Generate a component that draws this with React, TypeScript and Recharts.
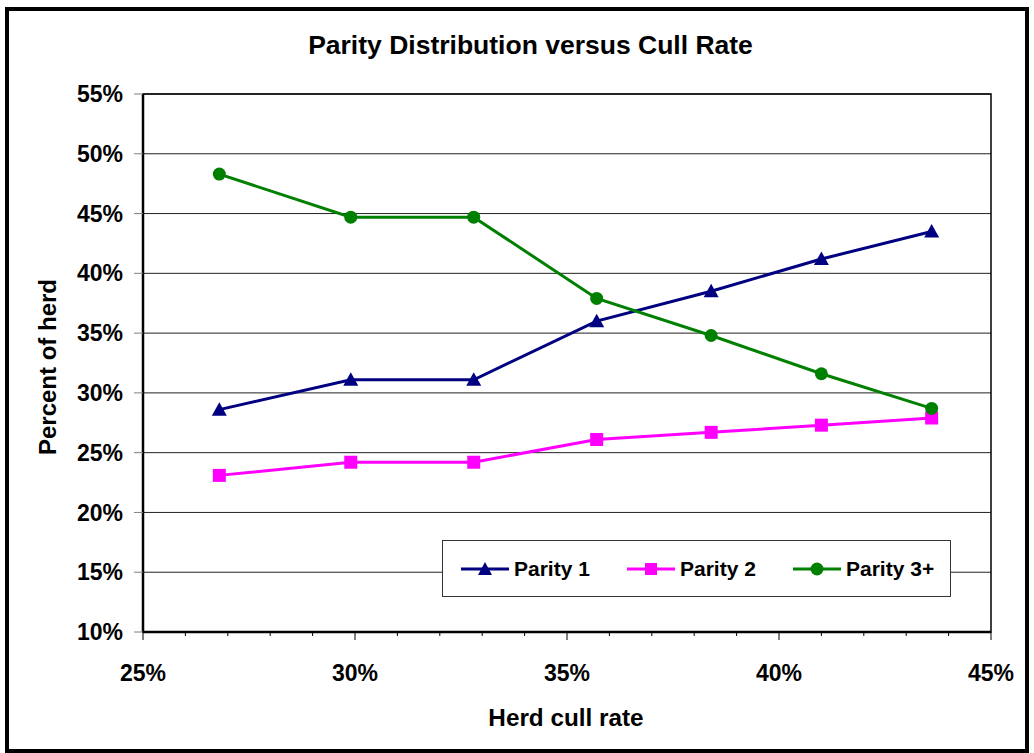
import { LineChart, Line, XAxis, YAxis, CartesianGrid, Legend, ReferenceArea } from 'recharts';

// Herd cull rate (%) and share of the herd by parity (%)
const cullRate = [26.8, 29.9, 32.8, 35.7, 38.4, 41.0, 43.6];
const parity1 = [28.6, 31.1, 31.1, 36.0, 38.5, 41.2, 43.5];
const parity2 = [23.1, 24.2, 24.2, 26.1, 26.7, 27.3, 27.9];
const parity3 = [48.3, 44.7, 44.7, 37.9, 34.8, 31.6, 28.7];

const xTicks = [25, 26, 27, 28, 29, 30, 31, 32, 33, 34, 35, 36, 37, 38, 39, 40, 41, 42, 43, 44, 45];
const yTicks = [10, 15, 20, 25, 30, 35, 40, 45, 50, 55];

const data = cullRate.map((x, i) => ({ x, p1: parity1[i], p2: parity2[i], p3: parity3[i] }));

const FONT = '"Liberation Sans", Arial, sans-serif';
const NAVY = '#000080';
const MAGENTA = '#FF00FF';
const GREEN = '#008000';

const Triangle = (props: any) => {
  const { cx, cy, fill } = props;
  if (cx == null || cy == null) return null;
  return <path key={`t-${cx}`} d={`M${cx},${cy - 7.5} L${cx + 7.5},${cy + 6} L${cx - 7.5},${cy + 6} Z`} fill={fill} />;
};

const Square = (props: any) => {
  const { cx, cy, fill } = props;
  if (cx == null || cy == null) return null;
  return <rect key={`s-${cx}`} x={cx - 6.5} y={cy - 6.5} width={13} height={13} fill={fill} />;
};

const Circle = (props: any) => {
  const { cx, cy, fill } = props;
  if (cx == null || cy == null) return null;
  return <circle key={`c-${cx}`} cx={cx} cy={cy} r={6.5} fill={fill} />;
};

const XTick = (props: any) => {
  const { x, y, payload } = props;
  const major = payload.value % 5 === 0;
  return (
    <g>
      <line x1={x} x2={x} y1={y} y2={y + (major ? 8 : 4)} stroke="#000" strokeWidth={1} />
      {major && (
        <text x={x} y={y + 49} textAnchor="middle" fontFamily={FONT} fontWeight="bold" fontSize={23} fill="#000">
          {payload.value}%
        </text>
      )}
    </g>
  );
};

const legendItems = [
  { label: 'Parity 1', color: NAVY, shape: 'triangle' },
  { label: 'Parity 2', color: MAGENTA, shape: 'square' },
  { label: 'Parity 3+', color: GREEN, shape: 'circle' },
];

const LegendBox = () => (
  <div
    style={{
      width: '100%',
      height: '100%',
      boxSizing: 'border-box',
      border: '1px solid #333',
      background: '#fff',
      position: 'relative',
    }}
  >
    {legendItems.map((item, i) => (
      <div
        key={item.label}
        style={{ position: 'absolute', left: 18 + i * 166, top: 12, height: 32, display: 'flex', alignItems: 'center' }}
      >
        <svg width={48} height={16} style={{ display: 'block' }}>
          <line x1={0} x2={48} y1={8} y2={8} stroke={item.color} strokeWidth={3} />
          {item.shape === 'triangle' && <path d="M24,1 L31,14 L17,14 Z" fill={item.color} />}
          {item.shape === 'square' && <rect x={18} y={2} width={12} height={12} fill={item.color} />}
          {item.shape === 'circle' && <circle cx={24} cy={8} r={6.5} fill={item.color} />}
        </svg>
        <span style={{ marginLeft: 5, fontFamily: FONT, fontWeight: 'bold', fontSize: 21, color: '#000' }}>
          {item.label}
        </span>
      </div>
    ))}
  </div>
);

const App = () => {
  return (
    <div>
      <div
        style={{
          position: 'absolute',
          left: 5,
          top: 7,
          width: 1024,
          height: 746,
          boxSizing: 'border-box',
          border: '4px solid #000',
        }}
      />
      <div
        style={{
          position: 'absolute',
          left: 0,
          top: 32,
          width: 1061,
          textAlign: 'center',
          fontFamily: FONT,
          fontWeight: 'bold',
          fontSize: 26.5,
          lineHeight: '27px',
        }}
      >
        Parity Distribution versus Cull Rate
      </div>
      <div style={{ position: 'absolute', left: 0, top: 0 }}>
        <LineChart width={1034} height={753} data={data} margin={{ top: 94, right: 43, bottom: 0, left: 0 }}>
          <CartesianGrid vertical={false} stroke="#222" strokeWidth={1} />
          <ReferenceArea x1={25} x2={45} y1={10} y2={55} fill="none" stroke="#000" strokeWidth={1.5} />
          <XAxis
            type="number"
            dataKey="x"
            domain={[25, 45]}
            ticks={xTicks}
            interval={0}
            height={121}
            tickSize={0}
            tickMargin={0}
            tick={<XTick />}
            axisLine={{ stroke: '#000', strokeWidth: 2.5 }}
            label={{
              content: (p: any) => (
                <text
                  x={p.viewBox.x + p.viewBox.width / 2 - 1}
                  y={p.viewBox.y + 94}
                  textAnchor="middle"
                  fontFamily={FONT}
                  fontWeight="bold"
                  fontSize={24.3}
                  fill="#000"
                >
                  Herd cull rate
                </text>
              ),
            }}
          />
          <YAxis
            type="number"
            domain={[10, 55]}
            ticks={yTicks}
            interval={0}
            width={143}
            tickSize={9}
            tickMargin={11}
            tickLine={{ stroke: '#808080' }}
            axisLine={{ stroke: '#000', strokeWidth: 2.5 }}
            tickFormatter={(v: number) => `${v}%`}
            tick={{ fontFamily: FONT, fontWeight: 'bold', fontSize: 23, fill: '#000' }}
            label={{
              content: (p: any) => (
                <text
                  x={47}
                  y={p.viewBox.y + p.viewBox.height / 2 + 4}
                  transform={`rotate(-90, 47, ${p.viewBox.y + p.viewBox.height / 2 + 4})`}
                  textAnchor="middle"
                  dominantBaseline="central"
                  fontFamily={FONT}
                  fontWeight="bold"
                  fontSize={24}
                  fill="#000"
                >
                  Percent of herd
                </text>
              ),
            }}
          />
          <Legend
            layout="horizontal"
            verticalAlign="middle"
            align="center"
            content={() => <LegendBox />}
            wrapperStyle={{ position: 'absolute', left: 442, top: 540, width: 509, height: 57 }}
          />
          <Line
            name="Parity 1"
            dataKey="p1"
            stroke={NAVY}
            fill={NAVY}
            strokeWidth={3}
            dot={(p: any) => <Triangle {...p} fill={NAVY} />}
            activeDot={false}
            isAnimationActive={false}
          />
          <Line
            name="Parity 2"
            dataKey="p2"
            stroke={MAGENTA}
            fill={MAGENTA}
            strokeWidth={3}
            dot={(p: any) => <Square {...p} fill={MAGENTA} />}
            activeDot={false}
            isAnimationActive={false}
          />
          <Line
            name="Parity 3+"
            dataKey="p3"
            stroke={GREEN}
            fill={GREEN}
            strokeWidth={3}
            dot={(p: any) => <Circle {...p} fill={GREEN} />}
            activeDot={false}
            isAnimationActive={false}
          />
        </LineChart>
      </div>
    </div>
  );
};

export default App;
